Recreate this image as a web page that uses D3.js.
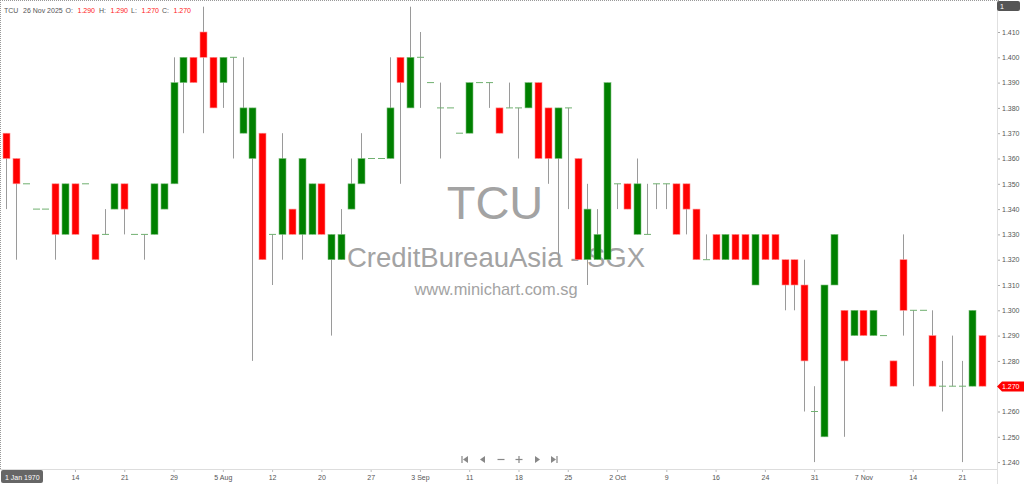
<!DOCTYPE html>
<html>
<head>
<meta charset="utf-8">
<script src="https://cdn.jsdelivr.net/npm/d3@7"></script>
<style>
  html, body { margin:0; padding:0; background:#fff; }
  svg { display:block; font-family:"Liberation Sans", Arial, sans-serif; }
</style>
</head>
<body>
<svg id="chart" width="1024" height="484"></svg>
<script>
// daily bars, oldest first (last = 26 Nov 2025)
const opens = [
  1.370,1.360,1.350,1.340,1.340,1.350,1.330,1.350,1.350,1.330,
  1.330,1.340,1.350,1.330,1.330,1.330,1.340,1.350,1.390,1.400,
  1.410,1.400,1.390,1.400,1.370,1.360,1.370,1.330,1.330,1.340,
  1.330,1.330,1.350,1.320,1.320,1.340,1.350,1.360,1.360,1.360,
  1.400,1.380,1.400,1.390,1.380,1.380,1.370,1.370,1.390,1.390,
  1.380,1.380,1.380,1.380,1.390,1.380,1.360,1.380,1.360,1.320,
  1.320,1.320,1.350,1.350,1.330,1.330,1.350,1.350,1.350,1.350,
  1.340,1.320,1.330,1.320,1.330,1.330,1.310,1.330,1.330,1.320,
  1.320,1.310,1.260,1.250,1.310,1.300,1.290,1.300,1.290,1.290,
  1.280,1.320,1.300,1.300,1.290,1.270,1.270,1.270,1.270,1.290
];
const highs = [
  1.370,1.360,1.350,1.340,1.340,1.350,1.350,1.350,1.350,1.330,
  1.340,1.350,1.350,1.330,1.330,1.350,1.350,1.400,1.400,1.400,
  1.420,1.400,1.400,1.400,1.400,1.380,1.370,1.330,1.370,1.340,
  1.360,1.350,1.350,1.330,1.340,1.360,1.370,1.360,1.360,1.400,
  1.400,1.420,1.410,1.390,1.390,1.380,1.370,1.390,1.390,1.390,
  1.380,1.390,1.380,1.390,1.390,1.380,1.380,1.380,1.360,1.350,
  1.340,1.390,1.350,1.350,1.360,1.350,1.350,1.350,1.350,1.350,
  1.340,1.330,1.330,1.330,1.330,1.330,1.330,1.330,1.330,1.320,
  1.320,1.320,1.270,1.310,1.330,1.300,1.300,1.300,1.300,1.290,
  1.280,1.330,1.300,1.300,1.300,1.280,1.290,1.280,1.300,1.290
];
const lows = [
  1.340,1.320,1.350,1.340,1.340,1.320,1.330,1.330,1.350,1.320,
  1.330,1.340,1.330,1.330,1.320,1.330,1.340,1.350,1.370,1.390,
  1.370,1.380,1.380,1.360,1.370,1.280,1.320,1.310,1.320,1.330,
  1.320,1.330,1.330,1.290,1.320,1.340,1.350,1.360,1.360,1.360,
  1.350,1.380,1.380,1.390,1.360,1.380,1.370,1.370,1.390,1.380,
  1.370,1.380,1.360,1.380,1.360,1.350,1.320,1.340,1.320,1.310,
  1.320,1.320,1.340,1.340,1.330,1.330,1.340,1.340,1.330,1.330,
  1.320,1.320,1.320,1.320,1.320,1.320,1.310,1.320,1.320,1.300,
  1.300,1.260,1.240,1.250,1.310,1.250,1.290,1.290,1.290,1.290,
  1.270,1.290,1.270,1.300,1.270,1.260,1.270,1.240,1.270,1.270
];
const closes = [
  1.360,1.350,1.350,1.340,1.340,1.330,1.350,1.330,1.350,1.320,
  1.330,1.350,1.340,1.330,1.330,1.350,1.350,1.390,1.400,1.390,
  1.400,1.380,1.400,1.400,1.380,1.380,1.320,1.330,1.360,1.330,
  1.360,1.350,1.330,1.330,1.330,1.350,1.360,1.360,1.360,1.380,
  1.390,1.400,1.400,1.390,1.380,1.380,1.370,1.390,1.390,1.390,
  1.370,1.380,1.380,1.390,1.360,1.360,1.380,1.380,1.320,1.340,
  1.330,1.390,1.350,1.340,1.350,1.330,1.350,1.350,1.330,1.340,
  1.320,1.320,1.320,1.330,1.320,1.320,1.330,1.320,1.320,1.310,
  1.310,1.280,1.260,1.310,1.330,1.280,1.300,1.290,1.300,1.290,
  1.270,1.300,1.300,1.300,1.270,1.270,1.270,1.270,1.300,1.270
];

const dateTickIndex = [7,12,17,22,27,32,37,42,47,52,57,62,67,72,77,82,87,92,97];
const dateTickLabels = ["14","21","29","5 Aug","12","20","27","3 Sep","11","18",
  "25","2 Oct","9","16","24","31","7 Nov","14","21"];
const priceTicks = [1.240,1.250,1.260,1.270,1.280,1.290,1.300,1.310,1.320,
  1.330,1.340,1.350,1.360,1.370,1.380,1.390,1.400,1.410];

const bars = opens.map((o, i) => ({ i, o, h: highs[i], l: lows[i], c: closes[i] }));

const svg = d3.select("#chart");
const width = +svg.attr("width");
const height = +svg.attr("height");
const axisX = 997;
const axisY = 469;

const x = d3.scaleLinear().domain([0, bars.length - 1]).range([6, 981.7]);
const y = d3.scaleLinear().domain([1.240, 1.410]).range([462.1, 32]);
const bodyW = 7;

// frame
svg.append("line")
  .attr("x1", 0).attr("x2", axisX + 3).attr("y1", 0.5).attr("y2", 0.5)
  .attr("stroke", "#999").attr("stroke-dasharray", "1,1");
svg.append("line")
  .attr("x1", 0.5).attr("x2", 0.5).attr("y1", 0).attr("y2", axisY)
  .attr("stroke", "#999").attr("stroke-dasharray", "1,1");

// watermark
const wm = svg.append("g").attr("fill", "#a3a3a3").attr("text-anchor", "middle");
wm.append("text").attr("x", 495).attr("y", 219).attr("font-size", 47).text("TCU");
wm.append("text").attr("x", 496).attr("y", 267).attr("font-size", 27.5).text("CreditBureauAsia - SGX");
wm.append("text").attr("x", 496).attr("y", 295).attr("font-size", 16.4).text("www.minichart.com.sg");

// candles
const g = svg.append("g");

g.selectAll(".wick")
  .data(bars.filter(d => d.h > d.l))
  .enter()
  .append("line")
  .attr("class", "wick")
  .attr("x1", d => Math.round(x(d.i)) + 0.5)
  .attr("x2", d => Math.round(x(d.i)) + 0.5)
  .attr("y1", d => y(d.h))
  .attr("y2", d => y(d.l))
  .attr("stroke", "#9a9a9a");

g.selectAll(".body")
  .data(bars.filter(d => d.o !== d.c))
  .enter()
  .append("rect")
  .attr("class", "body")
  .attr("x", d => Math.round(x(d.i)) + 0.5 - bodyW / 2)
  .attr("width", bodyW)
  .attr("y", d => y(Math.max(d.o, d.c)))
  .attr("height", d => Math.abs(y(d.o) - y(d.c)))
  .attr("fill", d => d.c > d.o ? "#008000" : "#ff0000")
  .attr("stroke", d => d.c > d.o ? "#7fc07f" : "#ff9090")
  .attr("stroke-width", 0.6);

g.selectAll(".flat")
  .data(bars.filter(d => d.o === d.c))
  .enter()
  .append("line")
  .attr("class", "flat")
  .attr("x1", d => Math.round(x(d.i)) + 0.5 - bodyW / 2)
  .attr("x2", d => Math.round(x(d.i)) + 0.5 + bodyW / 2)
  .attr("y1", d => y(d.c))
  .attr("y2", d => y(d.c))
  .attr("stroke", "#70b070");

// right price axis
const yAxis = svg.append("g")
  .attr("transform", `translate(${axisX}, 0)`)
  .call(d3.axisRight(y).tickValues(priceTicks).tickFormat(d3.format(".3f")).tickSize(3).tickPadding(2));
yAxis.select(".domain").remove();
yAxis.selectAll("line").attr("stroke", "#aaa");
yAxis.selectAll("text").attr("font-size", 7).attr("fill", "#555").attr("font-family", "Liberation Sans, Arial");

svg.append("line")
  .attr("x1", axisX + 0.5).attr("x2", axisX + 0.5).attr("y1", 0).attr("y2", height)
  .attr("stroke", "#e0e0e0");

// bottom date axis
const xAxis = svg.append("g")
  .attr("transform", `translate(0, ${axisY})`)
  .call(d3.axisBottom(x).tickValues(dateTickIndex)
    .tickFormat((d, k) => dateTickLabels[k]).tickSize(3).tickPadding(3));
xAxis.select(".domain").remove();
xAxis.selectAll("line").attr("stroke", "#bbb");
xAxis.selectAll("text").attr("font-size", 7).attr("fill", "#555").attr("font-family", "Liberation Sans, Arial");

svg.append("line")
  .attr("x1", 0).attr("x2", axisX).attr("y1", axisY + 0.5).attr("y2", axisY + 0.5)
  .attr("stroke", "#ddd");

// last price tag
const last = bars[bars.length - 1];
const ly = Math.round(y(last.c)) + 0.5;
svg.append("path")
  .attr("d", `M${axisX},${ly} L${axisX + 5},${ly - 5} L${width},${ly - 5} L${width},${ly + 5} L${axisX + 5},${ly + 5} Z`)
  .attr("fill", "#ff0000");
svg.append("text")
  .attr("x", axisX + 5).attr("y", ly + 2.5)
  .attr("font-size", 7).attr("fill", "#fff")
  .text(d3.format(".3f")(last.c));

// top right badge
svg.append("rect").attr("x", axisX).attr("y", 1).attr("width", 23).attr("height", 10)
  .attr("rx", 2).attr("fill", "#555");
svg.append("text").attr("x", axisX + 3).attr("y", 8.5)
  .attr("font-size", 7).attr("fill", "#fff").text("1");

// bottom-left date badge
svg.append("rect").attr("x", 1).attr("y", 470).attr("width", 42).attr("height", 13)
  .attr("rx", 2).attr("fill", "#666");
svg.append("text").attr("x", 5).attr("y", 479.5)
  .attr("font-size", 7).attr("fill", "#fff").text("1 Jan 1970");

// header legend
const legend = svg.append("g").attr("font-size", 7);
const legendItems = [
  { x: 4, t: "TCU", c: "#555" },
  { x: 23, t: "26 Nov 2025", c: "#555" },
  { x: 65.5, t: "O:", c: "#555" },
  { x: 77.5, t: d3.format(".3f")(last.o), c: "#ff2020" },
  { x: 99, t: "H:", c: "#555" },
  { x: 110.5, t: d3.format(".3f")(last.h), c: "#ff2020" },
  { x: 131, t: "L:", c: "#555" },
  { x: 141.5, t: d3.format(".3f")(last.l), c: "#ff2020" },
  { x: 162, t: "C:", c: "#555" },
  { x: 173.5, t: d3.format(".3f")(last.c), c: "#ff2020" }
];
legend.selectAll("text").data(legendItems).enter().append("text")
  .attr("x", d => d.x).attr("y", 13).attr("fill", d => d.c).text(d => d.t);

// navigation buttons
const nav = svg.append("g").attr("fill", "#888").attr("stroke", "#888");
const ny = 459.5;
const navX = [465, 483, 501, 519, 537, 554];
nav.append("path").attr("stroke", "none")
  .attr("d", `M${navX[0] - 2},${ny} L${navX[0] + 3},${ny - 3.5} L${navX[0] + 3},${ny + 3.5} Z`);
nav.append("line").attr("x1", navX[0] - 3).attr("x2", navX[0] - 3).attr("y1", ny - 3.5).attr("y2", ny + 3.5).attr("stroke-width", 1.2);
nav.append("path").attr("stroke", "none")
  .attr("d", `M${navX[1] - 3},${ny} L${navX[1] + 2},${ny - 3.5} L${navX[1] + 2},${ny + 3.5} Z`);
nav.append("line").attr("x1", navX[2] - 3.5).attr("x2", navX[2] + 3.5).attr("y1", ny).attr("y2", ny).attr("stroke-width", 1.2);
nav.append("line").attr("x1", navX[3] - 3.5).attr("x2", navX[3] + 3.5).attr("y1", ny).attr("y2", ny).attr("stroke-width", 1.2);
nav.append("line").attr("x1", navX[3]).attr("x2", navX[3]).attr("y1", ny - 3.5).attr("y2", ny + 3.5).attr("stroke-width", 1.2);
nav.append("path").attr("stroke", "none")
  .attr("d", `M${navX[4] + 3},${ny} L${navX[4] - 2},${ny - 3.5} L${navX[4] - 2},${ny + 3.5} Z`);
nav.append("path").attr("stroke", "none")
  .attr("d", `M${navX[5] + 2},${ny} L${navX[5] - 3},${ny - 3.5} L${navX[5] - 3},${ny + 3.5} Z`);
nav.append("line").attr("x1", navX[5] + 3).attr("x2", navX[5] + 3).attr("y1", ny - 3.5).attr("y2", ny + 3.5).attr("stroke-width", 1.2);
</script>
</body>
</html>
